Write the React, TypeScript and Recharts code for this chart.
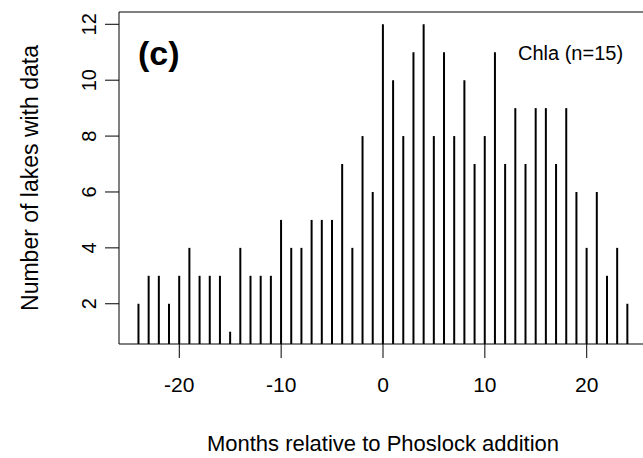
import { ComposedChart, Bar, XAxis, YAxis, ReferenceLine } from "recharts";

const MONTHS = [
  -24, -23, -22, -21, -20, -19, -18, -17, -16, -15, -14, -13, -12, -11, -10, -9,
  -8, -7, -6, -5, -4, -3, -2, -1, 0, 1, 2, 3, 4, 5, 6, 7, 8,
  9, 10, 11, 12, 13, 14, 15, 16, 17, 18, 19, 20, 21, 22, 23, 24,
];
const LAKES = [
  2, 3, 3, 2, 3, 4, 3, 3, 3, 1, 4, 3, 3, 3, 5, 4,
  4, 5, 5, 5, 7, 4, 8, 6, 12, 10, 8, 11, 12, 8, 11, 8, 10,
  7, 8, 11, 7, 9, 7, 9, 9, 7, 9, 6, 4, 6, 3, 4, 2,
];
const X_TICKS = [-20, -10, 0, 10, 20];
const Y_TICKS = [2, 4, 6, 8, 10, 12];

// R-style 4% padding around the data range
const X_DOMAIN = [-25.92, 25.92];
const Y_DOMAIN = [0.56, 12.44];

const FONT = "'Liberation Sans', Arial, sans-serif";

const data = MONTHS.map((m, i) => ({ month: m, lakes: LAKES[i] }));

function YTick(props: any) {
  const { x, y, payload } = props;
  return (
    <text
      x={x}
      y={y}
      transform={`rotate(-90, ${x}, ${y})`}
      textAnchor="middle"
      fontSize={20}
      fontFamily={FONT}
      fill="#000"
    >
      {payload.value}
    </text>
  );
}

export default function App() {
  return (
    <div style={{ position: "absolute", left: 0, top: 0, width: 643, height: 458, overflow: "hidden", background: "#fff" }}>
      <ComposedChart
        width={650}
        height={458}
        data={data}
        margin={{ top: 12, right: 3, bottom: 0, left: 0 }}
      >
        <XAxis
          dataKey="month"
          type="number"
          domain={X_DOMAIN}
          ticks={X_TICKS}
          allowDataOverflow
          tickSize={14}
          tickMargin={19}
          height={114}
          stroke="#000"
          tick={{ fontSize: 21, fill: "#000", fontFamily: FONT }}
        />
        <YAxis
          type="number"
          domain={Y_DOMAIN}
          ticks={Y_TICKS}
          allowDataOverflow
          width={119}
          tickSize={14}
          tickMargin={9}
          stroke="#000"
          tick={<YTick />}
        />
        <ReferenceLine y={Y_DOMAIN[1]} stroke="#000" ifOverflow="extendDomain" />
        <ReferenceLine x={X_DOMAIN[1]} stroke="#000" ifOverflow="extendDomain" />
        <Bar dataKey="lakes" fill="#000" barSize={2} isAnimationActive={false} />
        <text x={138} y={65} fontSize={34} fontWeight="bold" fontFamily={FONT} fill="#000">
          (c)
        </text>
        <text x={518} y={60} fontSize={20} fontFamily={FONT} fill="#000">
          Chla (n=15)
        </text>
        <text x={383} y={451} textAnchor="middle" fontSize={22} fontFamily={FONT} fill="#000">
          Months relative to Phoslock addition
        </text>
        <text
          x={38}
          y={178}
          transform="rotate(-90, 38, 178)"
          textAnchor="middle"
          fontSize={23}
          fontFamily={FONT}
          fill="#000"
        >
          Number of lakes with data
        </text>
      </ComposedChart>
    </div>
  );
}
